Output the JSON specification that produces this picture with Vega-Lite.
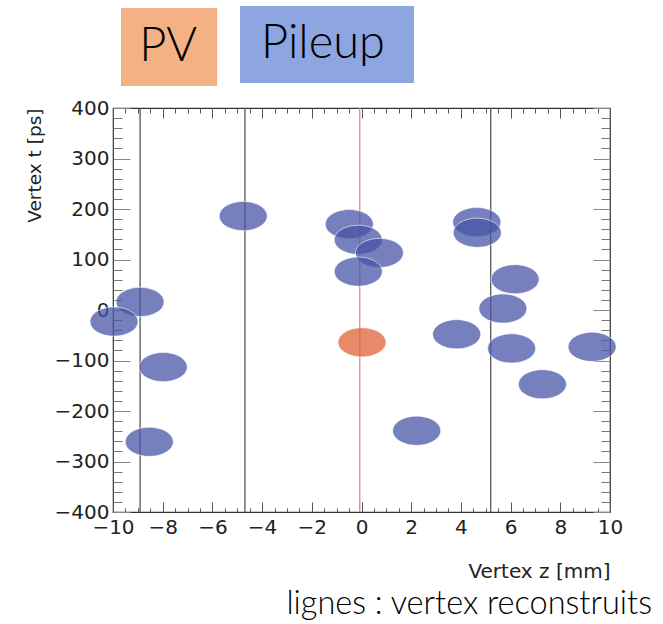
{
  "$schema": "https://vega.github.io/schema/vega-lite/v6.json",
  "width": 497,
  "height": 404,
  "autosize": {"type": "none"},
  "padding": {"left": 113, "top": 108, "right": 53, "bottom": 112},
  "background": "white",
  "title": {"text": "lignes : vertex reconstruits", "orient": "bottom", "anchor": "end", "frame": "group", "dx": 42, "offset": 7, "font": "Lato", "fontSize": 32.5, "fontWeight": 300, "color": "#000000"},
  "config": {
    "view": {"stroke": "#333333", "strokeWidth": 1.2},
    "axis": {"domain": false, "grid": false, "labelFont": "DejaVu Sans", "labelFontSize": 20, "labelColor": "#222222", "tickColor": "#555555", "tickWidth": 1, "labelOverlap": false, "labelFlush": false, "titleFont": "DejaVu Sans", "titleFontWeight": "normal", "titleColor": "#222222"}
  },
  "datasets": {
    "vertices": [
      {"z": -4.76, "t": 186, "type": "Pileup"},
      {"z": -0.49, "t": 170, "type": "Pileup"},
      {"z": -0.13, "t": 139, "type": "Pileup"},
      {"z": 0.72, "t": 113, "type": "Pileup"},
      {"z": -0.13, "t": 76, "type": "Pileup"},
      {"z": -8.91, "t": 16, "type": "Pileup"},
      {"z": -9.96, "t": -23, "type": "Pileup"},
      {"z": -7.98, "t": -113, "type": "Pileup"},
      {"z": -8.54, "t": -261, "type": "Pileup"},
      {"z": 4.64, "t": 174, "type": "Pileup"},
      {"z": 4.66, "t": 153, "type": "Pileup"},
      {"z": 6.18, "t": 61, "type": "Pileup"},
      {"z": 5.69, "t": 3, "type": "Pileup"},
      {"z": 3.83, "t": -48, "type": "Pileup"},
      {"z": 6.04, "t": -76, "type": "Pileup"},
      {"z": 9.28, "t": -73, "type": "Pileup"},
      {"z": 7.28, "t": -147, "type": "Pileup"},
      {"z": 2.22, "t": -239, "type": "Pileup"},
      {"z": 0.02, "t": -64, "type": "PV"}
    ],
    "lines": [
      {"z": -8.91, "kind": "reco"},
      {"z": -4.69, "kind": "reco"},
      {"z": 5.2, "kind": "reco"},
      {"z": -0.07, "kind": "PV"}
    ]
  },
  "resolve": {"axis": {"x": "independent", "y": "independent"}},
  "layer": [
    {
      "data": {"name": "lines"},
      "mark": {"type": "rule", "strokeWidth": 1.3},
      "encoding": {
        "x": {"field": "z", "type": "quantitative", "scale": {"domain": [-10, 10], "nice": false, "zero": false},
          "axis": {"orient": "bottom", "values": [-9.5,-9,-8.5,-7.5,-7,-6.5,-5.5,-5,-4.5,-3.5,-3,-2.5,-1.5,-1,-0.5,0.5,1,1.5,2.5,3,3.5,4.5,5,5.5,6.5,7,7.5,8.5,9,9.5], "tickSize": -4, "labels": false, "title": null}},
        "y": {"datum": -400, "type": "quantitative", "scale": {"domain": [-400, 400], "nice": false, "zero": false},
          "axis": {"orient": "left", "values": [-380,-360,-340,-320,-280,-260,-240,-220,-180,-160,-140,-120,-80,-60,-40,-20,20,40,60,80,120,140,160,180,220,240,260,280,320,340,360,380], "tickSize": -9, "tickColor": "#777777", "labels": false, "title": null}},
        "y2": {"datum": 400},
        "color": {"condition": {"test": "datum.kind === 'PV'", "value": "#F08080"}, "value": "#555555"}
      }
    },
    {
      "data": {"name": "vertices"},
      "mark": {"type": "point", "shape": "M-1,0C-1,-0.335,-0.552,-0.607,0,-0.607C0.552,-0.607,1,-0.335,1,0C1,0.335,0.552,0.607,0,0.607C-0.552,0.607,-1,0.335,-1,0Z", "size": 2304, "filled": true, "opacity": 1, "fillOpacity": 0.75, "stroke": "white", "strokeWidth": 1, "strokeOpacity": 0.6},
      "encoding": {
        "x": {"field": "z", "type": "quantitative", "scale": {"domain": [-10, 10], "nice": false, "zero": false},
          "axis": {"orient": "bottom", "values": [-10,-8,-6,-4,-2,0,2,4,6,8,10], "tickSize": -10, "labelPadding": 15, "labelBaseline": "top", "title": "Vertex z [mm]", "titleX": 497, "titleY": 65, "titleAlign": "right", "titleBaseline": "alphabetic", "titleAngle": 0, "titleFontSize": 20}},
        "y": {"field": "t", "type": "quantitative", "scale": {"domain": [-400, 400], "nice": false, "zero": false},
          "axis": {"orient": "left", "values": [-400,-300,-200,-100,0,100,200,300,400], "tickSize": -17, "tickColor": "#888888", "labelPadding": 21, "title": "Vertex t [ps]", "titleX": -73, "titleY": 0, "titleAlign": "right", "titleBaseline": "alphabetic", "titleAngle": -90, "titleFontSize": 18.5}},
        "color": {"condition": {"test": "datum.type === 'PV'", "value": "#E06238"}, "value": "#4756A7"}
      }
    },
    {
      "data": {"values": [{}]},
      "mark": {"type": "rect", "color": "#F4B183"},
      "encoding": {
        "x": {"datum": -9.68, "type": "quantitative", "scale": {"domain": [-10, 10], "nice": false, "zero": false},
          "axis": {"orient": "top", "values": [-10,-8,-6,-4,-2,0,2,4,6,8,10], "tickSize": -10, "labels": false, "title": null}},
        "x2": {"datum": -5.81},
        "y": {"datum": 598, "type": "quantitative", "scale": {"domain": [-400, 400], "nice": false, "zero": false},
          "axis": {"orient": "right", "values": [-400,-300,-200,-100,0,100,200,300,400], "tickSize": -17, "tickColor": "#888888", "labels": false, "title": null}},
        "y2": {"datum": 443.6}
      }
    },
    {
      "data": {"values": [{}]},
      "mark": {"type": "rect", "color": "#8DA5E0"},
      "encoding": {
        "x": {"datum": -4.89, "type": "quantitative", "scale": {"domain": [-10, 10], "nice": false, "zero": false},
          "axis": {"orient": "top", "values": [-9.5,-9,-8.5,-7.5,-7,-6.5,-5.5,-5,-4.5,-3.5,-3,-2.5,-1.5,-1,-0.5,0.5,1,1.5,2.5,3,3.5,4.5,5,5.5,6.5,7,7.5,8.5,9,9.5], "tickSize": -5, "labels": false, "title": null}},
        "x2": {"datum": 2.11},
        "y": {"datum": 602, "type": "quantitative", "scale": {"domain": [-400, 400], "nice": false, "zero": false},
          "axis": {"orient": "right", "values": [-380,-360,-340,-320,-280,-260,-240,-220,-180,-160,-140,-120,-80,-60,-40,-20,20,40,60,80,120,140,160,180,220,240,260,280,320,340,360,380], "tickSize": -9, "tickColor": "#777777", "labels": false, "title": null}},
        "y2": {"datum": 449.5}
      }
    },
    {
      "data": {"values": [{}]},
      "mark": {"type": "text", "text": "PV", "font": "Lato", "fontSize": 47, "fontWeight": 300, "align": "center", "baseline": "alphabetic", "color": "#000000"},
      "encoding": {
        "x": {"datum": -7.78, "type": "quantitative", "scale": {"domain": [-10, 10], "nice": false, "zero": false}, "axis": null},
        "y": {"datum": 493, "type": "quantitative", "scale": {"domain": [-400, 400], "nice": false, "zero": false}, "axis": null}
      }
    },
    {
      "data": {"values": [{}]},
      "mark": {"type": "text", "text": "Pileup", "font": "Lato", "fontSize": 47, "fontWeight": 300, "align": "center", "baseline": "alphabetic", "color": "#000000"},
      "encoding": {
        "x": {"datum": -1.55, "type": "quantitative", "scale": {"domain": [-10, 10], "nice": false, "zero": false}, "axis": null},
        "y": {"datum": 499, "type": "quantitative", "scale": {"domain": [-400, 400], "nice": false, "zero": false}, "axis": null}
      }
    }
  ]
}
